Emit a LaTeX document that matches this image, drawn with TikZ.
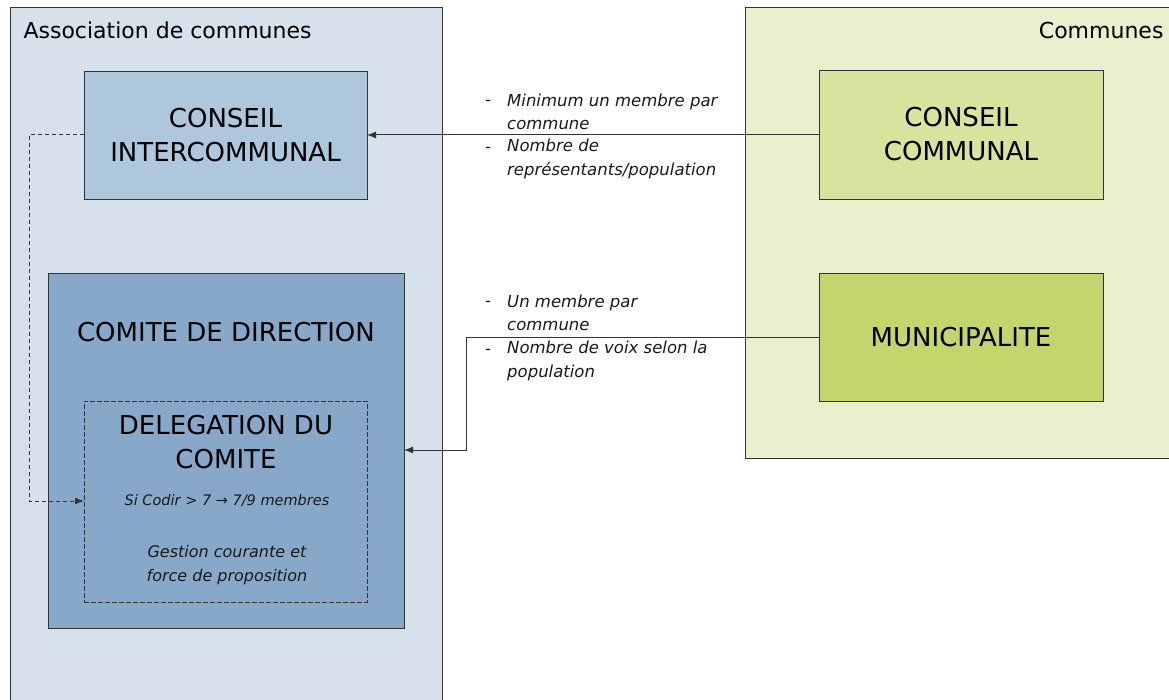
\documentclass[tikz,border=0pt]{standalone}
\usepackage{fontspec}
\setmainfont{DejaVu Sans}
\usetikzlibrary{arrows.meta}
\definecolor{assocbg}{HTML}{D7E1EC}
\definecolor{cibox}{HTML}{AEC7DD}
\definecolor{codirbox}{HTML}{88A8CA}
\definecolor{communbg}{HTML}{E9F0CD}
\definecolor{ccbox}{HTML}{D8E49D}
\definecolor{munibox}{HTML}{C3D66E}
\definecolor{edge}{HTML}{333333}
\begin{document}
\begin{tikzpicture}[x=1pt,y=-1pt,
  frame/.style={draw=edge, line width=0.95pt, inner sep=0pt, outer sep=0pt, anchor=north west},
  bigtxt/.style={font=\fontsize{26}{34}\selectfont, align=center, text=black},
  hdrtxt/.style={font=\fontsize{22}{26}\selectfont, text=black},
  notetxt/.style={font=\fontsize{16.5}{23.5}\selectfont\itshape, align=left, text=black!90},
  link/.style={draw=edge, line width=1pt, -{Latex[length=9pt,width=7pt]}},
  dlink/.style={link, dash pattern=on 4pt off 3pt}
]
\useasboundingbox (0,0) rectangle (1169,700);
% containers
\node[frame, fill=assocbg, minimum width=432pt, minimum height=720pt] (assoc) at (10,7) {};
\node[frame, fill=communbg, minimum width=440pt, minimum height=451pt] (commun) at (745,7) {};
\node[hdrtxt, anchor=west] (assoclbl) at (20,30) {Association de communes};
\node[hdrtxt, anchor=east] (communlbl) at (1167,30) {Communes};
% boxes
\node[frame, fill=cibox, minimum width=283pt, minimum height=128pt] (ci) at (84,71) {};
\node[bigtxt] (citxt) at (ci.center) {CONSEIL\\INTERCOMMUNAL};
\node[frame, fill=codirbox, minimum width=356pt, minimum height=355pt] (codir) at (48,273) {};
\node[bigtxt] (codirtxt) at (226,332) {COMITE DE DIRECTION};
\node[frame, line width=0.8pt, dash pattern=on 5pt off 2pt, minimum width=283pt, minimum height=201pt] (deleg) at (84,401) {};
\node[bigtxt] (delegtxt) at (226,442) {DELEGATION DU\\COMITE};
\node[font=\fontsize{14.5}{18}\selectfont\itshape, text=black!90] (codirrule) at (227,501) {Si Codir > 7 → 7/9 membres};
\node[font=\fontsize{16}{23.5}\selectfont\itshape, align=center, text=black!90] (gestion) at (227,565) {Gestion courante et\\force de proposition};
\node[frame, fill=ccbox, minimum width=284pt, minimum height=129pt] (cc) at (819,70) {};
\node[bigtxt] (cctxt) at (cc.center) {CONSEIL\\COMMUNAL};
\node[frame, fill=munibox, minimum width=284pt, minimum height=128pt] (muni) at (819,273) {};
\node[bigtxt] (munitxt) at (muni.center) {MUNICIPALITE};
% annotations
\node[notetxt] (d1) at (488,103) {-};
\node[notetxt, anchor=west, inner sep=0pt] (n1) at (507,112) {Minimum un membre par\\commune};
\node[notetxt] (d2) at (488,150) {-};
\node[notetxt, anchor=west, inner sep=0pt] (n2) at (507,159) {Nombre de\\représentants/population};
\node[notetxt] (d3) at (488,304) {-};
\node[notetxt, anchor=west, inner sep=0pt] (n3) at (507,313) {Un membre par\\commune};
\node[notetxt] (d4) at (488,352) {-};
\node[notetxt, anchor=west, inner sep=0pt] (n4) at (507,361) {Nombre de voix selon la\\population};
% connectors
\coordinate (ciline) at (400,135);
\draw[link] (cc.west |- ciline) -- (ci.east |- ciline);
\coordinate (bend) at (466,450);
\draw[link] (muni.west) -- (muni.west -| bend) -- (bend) -- (bend -| codir.east);
\coordinate (dl) at (29,501);
\draw[dlink] (ci.west |- ciline) -| (dl) -- (dl -| deleg.west);
\end{tikzpicture}
\end{document}
